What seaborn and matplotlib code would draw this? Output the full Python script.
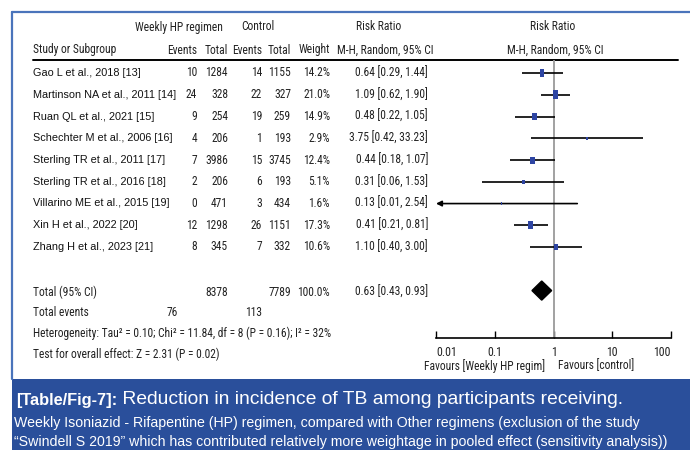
import numpy as np
import pandas as pd
import matplotlib
matplotlib.use("Agg")
import matplotlib.pyplot as plt
from matplotlib import font_manager as fm
from matplotlib.path import Path
import seaborn as sns

# ---------------- data ----------------
studies = ["Gao L et al., 2018 [13]", "Martinson NA et al., 2011 [14]",
           "Ruan QL et al., 2021 [15]", "Schechter M et al., 2006 [16]",
           "Sterling TR et al., 2011 [17]", "Sterling TR et al., 2016 [18]",
           "Villarino ME et al., 2015 [19]", "Xin H et al., 2022 [20]",
           "Zhang H et al., 2023 [21]"]
hp_events = [10, 24, 9, 4, 7, 2, 0, 12, 8]
hp_total = [1284, 328, 254, 206, 3986, 206, 471, 1298, 345]
ctl_events = [14, 22, 19, 1, 15, 6, 3, 26, 7]
ctl_total = [1155, 327, 259, 193, 3745, 193, 434, 1151, 332]
weights = [14.2, 21.0, 14.9, 2.9, 12.4, 5.1, 1.6, 17.3, 10.6]
rr = [0.64, 1.09, 0.48, 3.75, 0.44, 0.31, 0.13, 0.41, 1.10]
rr_lo = [0.29, 0.62, 0.22, 0.42, 0.18, 0.06, 0.01, 0.21, 0.40]
rr_hi = [1.44, 1.90, 1.05, 33.23, 1.07, 1.53, 2.54, 0.81, 3.00]
total_hp, total_ctl, total_weight = 8378, 7789, 100.0
total_rr, total_lo, total_hi = 0.63, 0.43, 0.93
events_hp, events_ctl = 76, 113
heterogeneity = "Heterogeneity: Tau² = 0.10; Chi² = 11.84, df = 8 (P = 0.16); I² = 32%"
overall = "Test for overall effect: Z = 2.31 (P = 0.02)"
tick_vals = [0.01, 0.1, 1, 10, 100]
tick_labels = ["0.01", "0.1", "1", "10", "100"]

# ---------------- fonts ----------------
sns.set_style("white")
names = {f.name for f in fm.fontManager.ttflist}
REG = "Liberation Sans" if "Liberation Sans" in names else "DejaVu Sans"
NAR = REG
for cand in ["Liberation Sans Narrow", "Roboto Condensed", "DejaVu Sans Condensed", "Open Sans Condensed"]:
    if cand in names:
        NAR = cand
        break
plt.rcParams["font.family"] = [REG, "DejaVu Sans"]

W, H = 690, 450
fig = plt.figure(figsize=(6.9, 4.5), dpi=100)
tab = fig.add_axes([0, 0, 1, 1])
tab.set_xlim(0, W)
tab.set_ylim(H, 0)
tab.axis("off")

FS = 7.8
NFS = 8.3

# frame and caption
blue = "#2a4f9b"
tab.plot([12, W], [12, 12], color="#4a74bb", lw=1.6)
tab.plot([12, 12], [12, 379], color="#4a74bb", lw=1.6)
tab.add_patch(plt.Rectangle((12, 379), W - 12, H - 379, color=blue, lw=0))

# headers
hy1, hy2 = 27, 50
def nt(x, y, s, ha="right", **kw):
    tab.text(x, y, s, ha=ha, va="center", fontsize=NFS, family=[NAR, "DejaVu Sans"], color="#222222", **kw)

nt(179, hy1, "Weekly HP regimen", ha="center")
nt(258, hy1, "Control", ha="center")
nt(379, hy1, "Risk Ratio", ha="center")
nt(553, hy1, "Risk Ratio", ha="center")
nt(33, hy2, "Study or Subgroup", ha="left")
nt(197, hy2, "Events")
nt(228, hy2, "Total")
nt(262, hy2, "Events")
nt(291, hy2, "Total")
nt(330, hy2, "Weight")
nt(385, hy2, "M-H, Random, 95% CI", ha="center")
nt(555, hy2, "M-H, Random, 95% CI", ha="center")
tab.plot([33, 678], [60, 60], color="black", lw=1.4)

row0, step = 73, 21.75
for i, s in enumerate(studies):
    y = row0 + i * step
    tab.text(33, y, s, ha="left", va="center", fontsize=FS, color="#111111")
    nt(197, y, str(hp_events[i]))
    nt(228, y, str(hp_total[i]))
    nt(262, y, str(ctl_events[i]))
    nt(291, y, str(ctl_total[i]))
    nt(330, y, f"{weights[i]:.1f}%")
    nt(428, y, f"{rr[i]:.2f} [{rr_lo[i]:.2f}, {rr_hi[i]:.2f}]")

ty = 292
nt(33, ty, "Total (95% CI)", ha="left")
nt(228, ty, str(total_hp))
nt(291, ty, str(total_ctl))
nt(330, ty, f"{total_weight:.1f}%")
nt(428, ty, f"{total_rr:.2f} [{total_lo:.2f}, {total_hi:.2f}]")
nt(33, 313, "Total events", ha="left")
nt(178, 313, str(events_hp))
nt(262, 313, str(events_ctl))
nt(33, 333, heterogeneity, ha="left")
nt(33, 354, overall, ha="left")

# ---------------- forest plot ----------------
top_px, bot_px = 60, 338
left_px, right_px = 436, 671
ax = fig.add_axes([left_px / W, 1 - bot_px / H, (right_px - left_px) / W, (bot_px - top_px) / H])
ax.set_zorder(5)
ax.set_xscale("log")
ax.set_xlim(0.01, 100)
ax.set_ylim(12.18, -0.6)
ax.patch.set_alpha(0)
for sp in ["top", "left", "right"]:
    ax.spines[sp].set_visible(False)
ax.spines["bottom"].set_visible(True)
ax.spines["bottom"].set_linewidth(1.2)
ax.spines["bottom"].set_color("black")
ax.set_yticks([])

ax.axvline(1, color="#9a9a9a", lw=1.3, zorder=1)

df = pd.DataFrame({"study": studies, "rr": rr, "lo": rr_lo, "hi": rr_hi, "w": weights})
df["row"] = np.arange(len(df))
xmin = 0.01
for _, r in df.iterrows():
    if r["lo"] <= xmin:
        ax.annotate("", xy=(xmin, r["row"]), xytext=(r["hi"], r["row"]),
                    arrowprops=dict(arrowstyle="-|>", color="black", lw=1.2,
                                    mutation_scale=8, shrinkA=0, shrinkB=0), zorder=2)
    else:
        ax.hlines(r["row"], r["lo"], r["hi"], color="black", lw=1.2, zorder=2)

rect = Path([(-0.6, -1), (0.6, -1), (0.6, 1), (-0.6, 1), (-0.6, -1)],
            [Path.MOVETO, Path.LINETO, Path.LINETO, Path.LINETO, Path.CLOSEPOLY])
df["size"] = df["w"] * 2.0
sns.scatterplot(data=df, x="rr", y="row", size="size", sizes=(df["size"].min(), df["size"].max()),
                marker=rect, color="#2e45a3", edgecolor="none", legend=False, ax=ax, zorder=3)

# diamond for total
trow, hh = 10, 0.44
ax.fill([total_lo, total_rr, total_hi, total_rr], [trow, trow - hh, trow, trow + hh],
        color="black", zorder=3)

ax.set_xscale("log")
ax.set_xlim(0.01, 100)
ax.set_ylim(12.18, -0.6)
ax.set_ylabel("")
ax.set_xlabel("")
ax.set_xticks(tick_vals)
labs = ax.set_xticklabels(tick_labels, family=[NAR, "DejaVu Sans"], fontsize=8.6)
labs[0].set_horizontalalignment("left")
labs[-1].set_horizontalalignment("right")
ax.xaxis.set_minor_locator(matplotlib.ticker.NullLocator())
ax.tick_params(axis="x", which="major", bottom=True, direction="in", length=5, width=1.0,
               pad=6, color="black", labelcolor="#222222")

# favours labels
tab.text(545, 366, "Favours [Weekly HP regim]", ha="right", va="center", fontsize=NFS,
         family=[NAR, "DejaVu Sans"], color="#222222")
tab.text(558, 366, "Favours [control]", ha="left", va="center", fontsize=NFS,
         family=[NAR, "DejaVu Sans"], color="#222222")

# caption
t1 = tab.text(16, 400, "[Table/Fig-7]:", ha="left", va="center", fontsize=11.8,
              fontweight="bold", color="white")
tab.annotate(" Reduction in incidence of TB among participants receiving.", xy=(1, 0.5),
             xycoords=t1, ha="left", va="center", fontsize=13.9, color="white")
tab.text(14, 423, "Weekly Isoniazid - Rifapentine (HP) regimen, compared with Other regimens (exclusion of the study",
         ha="left", va="center", fontsize=10.2, color="white")
tab.text(14, 442, "“Swindell S 2019” which has contributed relatively more weightage in pooled effect (sensitivity analysis))",
         ha="left", va="center", fontsize=10.2, color="white")

fig.savefig("out.png", dpi=100)
